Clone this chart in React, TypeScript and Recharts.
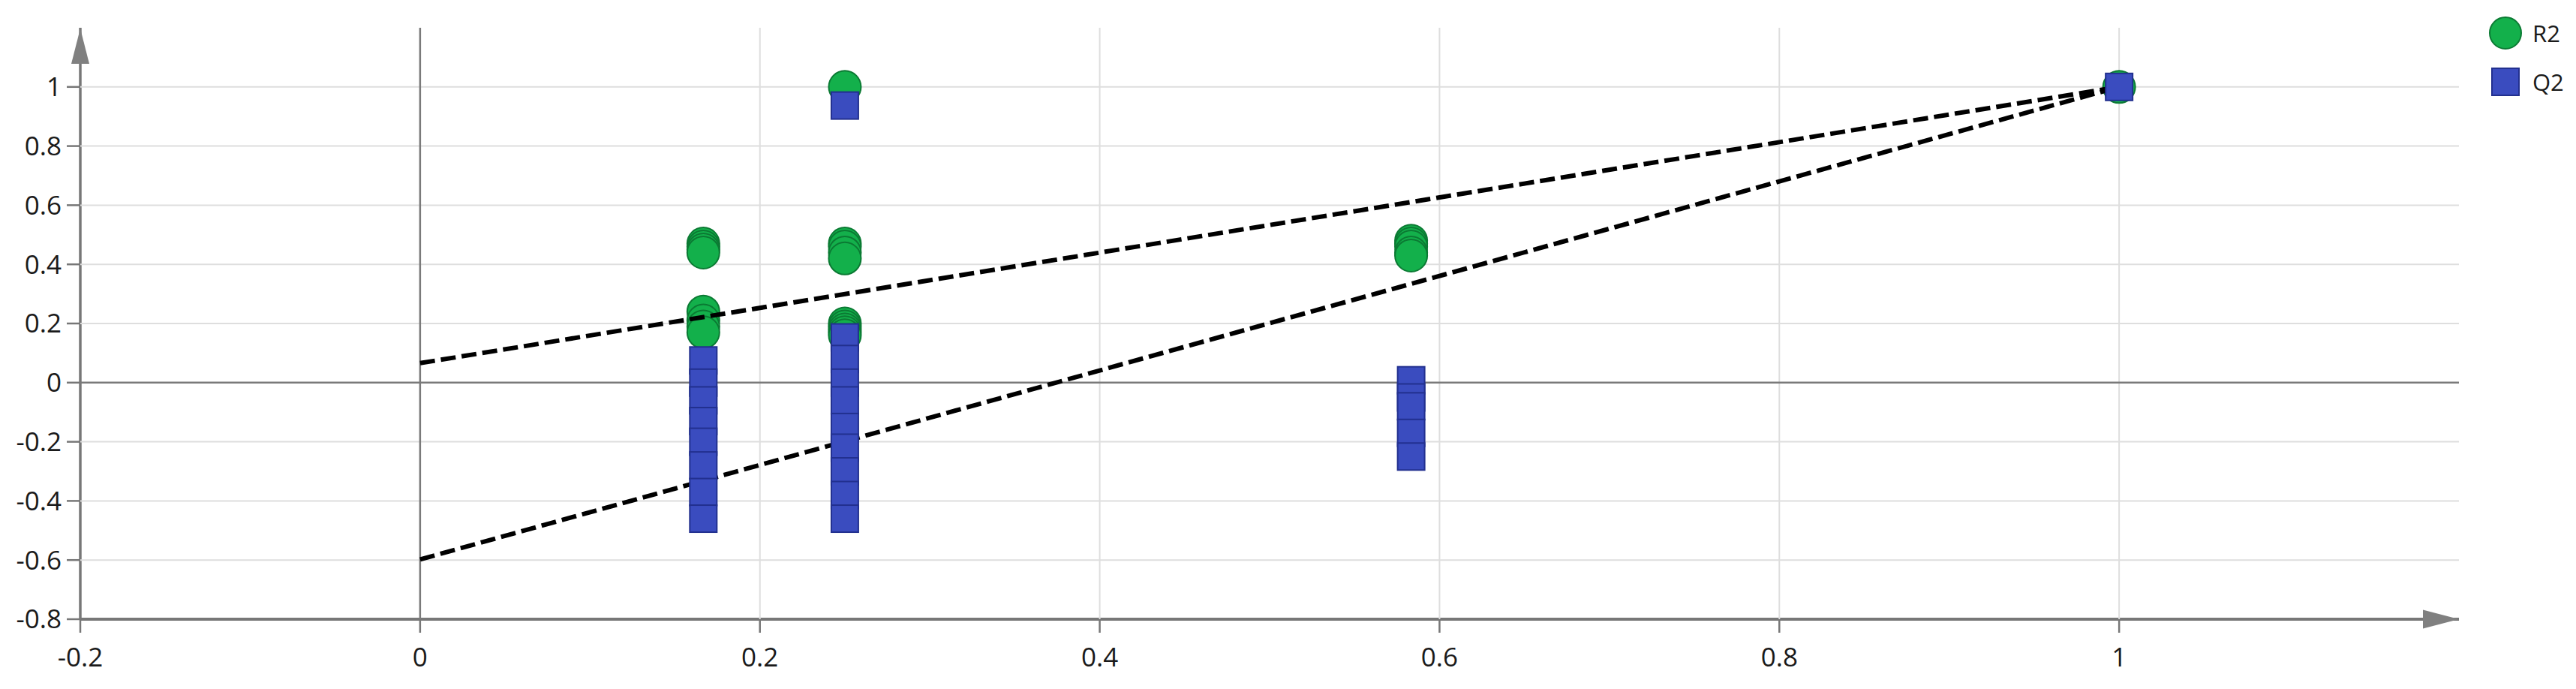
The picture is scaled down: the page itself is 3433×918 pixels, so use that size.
import React from 'react';
import { ScatterChart, Scatter, XAxis, YAxis, Legend, ReferenceDot } from 'recharts';

// ---- axis ticks ----
const xTicks = [-0.2, 0, 0.2, 0.4, 0.6, 0.8, 1];
const xMinorTicks = [-0.1, 0.1, 0.3, 0.5, 0.7, 0.9, 1.1];
const yTicks = [-0.8, -0.6, -0.4, -0.2, 0, 0.2, 0.4, 0.6, 0.8, 1];
const yMinorTicks = [-0.7, -0.5, -0.3, -0.1, 0.1, 0.3, 0.5, 0.7, 0.9];
const xGridTicks = [0.2, 0.4, 0.6, 0.8, 1];
const yGridTicks = [-0.6, -0.4, -0.2, 0.2, 0.4, 0.6, 0.8, 1];
const xDomain = [-0.2, 1.2];
const yDomain = [-0.8, 1.2];

// ---- permutation results: correlation of permuted Y with original Y ----
const permCorrelation = [
  0.1667, 0.1667, 0.1667, 0.1667, 0.1667, 0.1667, 0.1667, 0.1667,
  0.25, 0.25, 0.25, 0.25, 0.25, 0.25, 0.25, 0.25, 0.25, 0.25,
  0.5833, 0.5833, 0.5833, 0.5833, 0.5833,
  1,
];
const r2Values = [
  0.47, 0.46, 0.45, 0.44, 0.24, 0.21, 0.19, 0.17,
  1, 0.47, 0.46, 0.44, 0.42, 0.2, 0.19, 0.18, 0.17, 0.16,
  0.48, 0.47, 0.46, 0.44, 0.43,
  1,
];
const q2Values = [
  0.075, 0.0, -0.06, -0.13, -0.2, -0.28, -0.37, -0.46,
  0.937, 0.153, 0.08, 0.0, -0.06, -0.15, -0.22, -0.3, -0.38, -0.46,
  0.008, -0.05, -0.08, -0.17, -0.25,
  1,
];

// ---- regression lines (intercepts) ----
const lineX = [0, 1];
const r2LineY = [0.066, 1];
const q2LineY = [-0.598, 1];

const legendNames = ['R2', 'Q2'];

const r2Data = permCorrelation.map((x, i) => ({ x, y: r2Values[i] }));
const q2Data = permCorrelation.map((x, i) => ({ x, y: q2Values[i] }));
const r2Line = lineX.map((x, i) => ({ x, y: r2LineY[i] }));
const q2Line = lineX.map((x, i) => ({ x, y: q2LineY[i] }));

// grid and zero lines, built from tick values and the axis domains
const hGridLines = yGridTicks.map((t) => xDomain.map((x) => ({ x, y: t })));
const vGridLines = xGridTicks.map((t) => yDomain.map((y) => ({ x: t, y })));
const zeroVertical = yDomain.map((y) => ({ x: 0, y }));
const zeroHorizontal = xDomain.map((x) => ({ x, y: 0 }));

const FONT = '"Open Sans", "Noto Sans", sans-serif';
const GREEN = '#13b04b';
const GREEN_DARK = '#0b7a33';
const BLUE = '#3a4cbf';
const BLUE_DARK = '#22308f';
const AXIS = '#777777';
const GRID = '#dedede';

const CircleShape = (p: any) => (
  <circle cx={p.cx} cy={p.cy} r={21.5} fill={GREEN} stroke={GREEN_DARK} strokeWidth={2} />
);
const SquareShape = (p: any) => (
  <rect x={p.cx - 18} y={p.cy - 18} width={36} height={36} fill={BLUE} stroke={BLUE_DARK} strokeWidth={2} />
);
const NoShape = () => <g />;

const UpArrow = (p: any) => (
  <polygon points={`${p.cx},${p.cy + 1} ${p.cx - 12},${p.cy + 48} ${p.cx + 12},${p.cy + 48}`} fill="#808080" />
);
const RightArrow = (p: any) => (
  <polygon points={`${p.cx},${p.cy} ${p.cx - 48},${p.cy - 12.5} ${p.cx - 48},${p.cy + 12.5}`} fill="#808080" />
);

const renderLegend = () => (
  <div style={{ fontFamily: FONT, fontSize: 31, color: '#1a1a1a' }}>
    {legendNames.map((name, i) => (
      <div key={name} style={{ display: 'flex', alignItems: 'center', height: 46, marginBottom: 19 }}>
        <svg width={46} height={46}>
          {i === 0 ? (
            <circle cx={23} cy={23} r={21} fill={GREEN} stroke={GREEN_DARK} strokeWidth={2} />
          ) : (
            <rect x={5} y={5} width={36} height={36} fill={BLUE} stroke={BLUE_DARK} strokeWidth={2} />
          )}
        </svg>
        <span style={{ marginLeft: 13, lineHeight: '46px' }}>{name}</span>
      </div>
    ))}
  </div>
);

export default function App() {
  const tickStyle = { fontSize: 35, fill: '#1a1a1a', fontFamily: FONT };
  return (
    <div style={{ width: 3433, height: 918, background: '#fff' }}>
      <style>{'body{margin:0;background:#fff}'}</style>
      <ScatterChart width={3433} height={918} margin={{ top: 37, right: 156, left: 0, bottom: 13 }}>
        <XAxis
          xAxisId="minor"
          dataKey="x"
          type="number"
          domain={xDomain}
          ticks={xMinorTicks}
          height={0}
          axisLine={false}
          tick={false}
          tickSize={10}
          tickLine={{ stroke: AXIS, strokeWidth: 2.5 }}
          allowDataOverflow
        />
        <YAxis
          yAxisId="minor"
          dataKey="y"
          type="number"
          domain={yDomain}
          ticks={yMinorTicks}
          width={0}
          axisLine={false}
          tick={false}
          tickSize={11}
          tickLine={{ stroke: AXIS, strokeWidth: 2.5 }}
          allowDataOverflow
        />
        <XAxis
          dataKey="x"
          type="number"
          domain={xDomain}
          ticks={xTicks}
          interval={0}
          height={80}
          axisLine={{ stroke: AXIS, strokeWidth: 4 }}
          tickLine={{ stroke: AXIS, strokeWidth: 2.5 }}
          tickSize={18}
          tickMargin={20}
          tick={tickStyle}
          allowDataOverflow
        />
        <YAxis
          dataKey="y"
          type="number"
          domain={yDomain}
          ticks={yTicks}
          interval={0}
          width={107}
          axisLine={{ stroke: AXIS, strokeWidth: 3.5 }}
          tickLine={{ stroke: AXIS, strokeWidth: 2.5 }}
          tickSize={18}
          tickMargin={7}
          tick={tickStyle}
          allowDataOverflow
        />
        {hGridLines.map((seg, i) => (
          <Scatter
            key={`h${i}`}
            data={seg}
            line={{ stroke: GRID, strokeWidth: 2 }}
            shape={NoShape}
            legendType="none"
            isAnimationActive={false}
          />
        ))}
        {vGridLines.map((seg, i) => (
          <Scatter
            key={`v${i}`}
            data={seg}
            line={{ stroke: GRID, strokeWidth: 2 }}
            shape={NoShape}
            legendType="none"
            isAnimationActive={false}
          />
        ))}
        <Scatter
          data={zeroVertical}
          line={{ stroke: '#7a7a7a', strokeWidth: 2.5 }}
          shape={NoShape}
          legendType="none"
          isAnimationActive={false}
        />
        <Scatter
          data={zeroHorizontal}
          line={{ stroke: '#7a7a7a', strokeWidth: 2.5 }}
          shape={NoShape}
          legendType="none"
          isAnimationActive={false}
        />
        <Scatter name="R2" data={r2Data} shape={CircleShape} isAnimationActive={false} />
        <Scatter
          data={r2Line}
          line={{ stroke: '#000', strokeWidth: 6, strokeDasharray: '20 8' }}
          shape={NoShape}
          legendType="none"
          isAnimationActive={false}
        />
        <Scatter
          data={q2Line}
          line={{ stroke: '#000', strokeWidth: 6, strokeDasharray: '20 8' }}
          shape={NoShape}
          legendType="none"
          isAnimationActive={false}
        />
        <Scatter name="Q2" data={q2Data} shape={SquareShape} isAnimationActive={false} />
        <ReferenceDot x={-0.2} y={1.2} shape={UpArrow} ifOverflow="visible" />
        <ReferenceDot x={1.2} y={-0.8} shape={RightArrow} ifOverflow="visible" />
        <Legend
          layout="horizontal"
          align="center"
          verticalAlign="middle"
          content={renderLegend}
          wrapperStyle={{ position: 'absolute', left: 3316, top: 21, width: 117, height: 130 }}
        />
      </ScatterChart>
    </div>
  );
}
